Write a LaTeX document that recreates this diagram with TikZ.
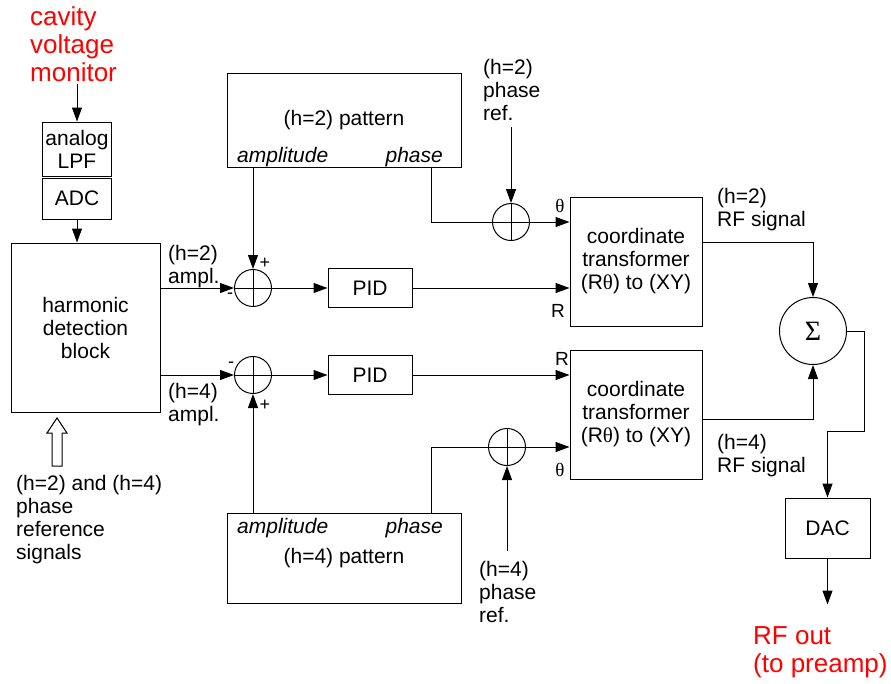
\documentclass[tikz,border=0pt]{standalone}
\usepackage{fontspec}
\setmainfont{Liberation Sans}
\newfontfamily\thfont{Liberation Serif}
\usepackage{tikz}
\usetikzlibrary{arrows.meta,positioning}
\newcommand{\fsn}{\fontsize{21}{23}\selectfont}
\newcommand{\fsr}{\fontsize{26}{28}\selectfont}
\newcommand{\thsym}{{\thfont θ}}
\tikzset{
  blk/.style={draw,line width=1pt,align=center,inner sep=0pt,font=\fsn},
  lbl/.style={align=left,inner sep=0pt,anchor=north west,font=\fsn},
  redlbl/.style={lbl,font=\fsr,text=red},
  itl/.style={inner sep=0pt,font=\fsn\itshape},
  sumc/.style={draw,circle,line width=1pt,minimum size=37pt,inner sep=0pt,
    path picture={\draw[line width=1pt] (path picture bounding box.north)--(path picture bounding box.south)
      (path picture bounding box.west)--(path picture bounding box.east);}},
  sigc/.style={draw,circle,line width=1pt,minimum size=67pt,inner sep=0pt,font=\fontsize{28}{28}\thfont},
  arr/.style={-{Triangle[length=14pt,width=10pt]},line width=1pt},
  ln/.style={line width=1pt},
  sgn/.style={inner sep=0pt,font=\fontsize{18}{18}\selectfont},
  port/.style={inner sep=0pt,font=\fontsize{19}{19}\selectfont},
}
\begin{document}
\begin{tikzpicture}[x=1pt,y=-1pt]
\useasboundingbox (0,0) rectangle (891,683);
% input side
\node[redlbl] (cvm) at (30,6) {cavity\\voltage\\monitor};
\node[blk,minimum width=69pt,minimum height=54pt] (lpf) at (77,149) {analog\\LPF};
\node[blk,minimum width=69pt,minimum height=41pt] (adc) at (77,198.5) {ADC};
\node[blk,minimum width=149pt,minimum height=169pt] (hdb) at (85.5,327.5) {harmonic\\detection\\block};
\node[lbl] (refs) at (16,475) {(h=2) and (h=4)\\phase\\reference\\signals};
\coordinate (harrow) at (57,466);
\node[lbl] (a2) at (168,245) {(h=2)\\ampl.};
\node[lbl] (a4) at (168,383) {(h=4)\\ampl.};
% patterns
\node[blk,minimum width=234pt,minimum height=94pt] (pat2) at (344,120) {(h=2) pattern};
\node[itl,anchor=base west] (amp2) at (237,162) {amplitude};
\node[itl,anchor=base east] (ph2) at (443,162) {phase};
\node[blk,minimum width=234pt,minimum height=90pt] (pat4) at (344,558) {(h=4) pattern};
\node[itl,anchor=base west] (amp4) at (237,533) {amplitude};
\node[itl,anchor=base east] (ph4) at (443,533) {phase};
\coordinate (p2out) at (431,167);
\coordinate (p4out) at (431,513);
% sums and PIDs
\node[sumc] (s1) at (253,288) {};
\node[sumc] (s2) at (253,375) {};
\node[sgn] (pl1) at ([shift={(12,-25)}]s1) {+};
\node[sgn] (mi1) at ([shift={(-23,8)}]s1) {-};
\node[sgn] (mi2) at ([shift={(-22,-10)}]s2) {-};
\node[sgn] (pl2) at ([shift={(12,30)}]s2) {+};
\node[blk,minimum width=84pt,minimum height=39pt] (pid1) at (370,288) {PID};
\node[blk,minimum width=84pt,minimum height=39pt] (pid2) at (370,375) {PID};
\node[sumc] (s3) at (511,222) {};
\node[sumc] (s4) at (507,447) {};
\node[lbl] (pr2) at (483,59) {(h=2)\\phase\\ref.};
\node[lbl] (pr4) at (479,561) {(h=4)\\phase\\ref.};
% transformers
\node[blk,minimum width=132pt,minimum height=129pt] (tr1) at (636,261.5) {coordinate\\transformer\\(R\thsym) to (XY)};
\node[blk,minimum width=132pt,minimum height=129pt] (tr2) at (636,414.5) {coordinate\\transformer\\(R\thsym) to (XY)};
\node[port] (th1) at (560,206) {\thsym};
\node[port] (r1) at (558,311) {R};
\node[port] (r2) at (562,359) {R};
\node[port] (th2) at (560,470) {\thsym};
\node[lbl] (rf2) at (717,188) {(h=2)\\RF signal};
\node[lbl] (rf4) at (717,434) {(h=4)\\RF signal};
% output side
\node[sigc] (sig) at (813,331) {Σ};
\node[blk,minimum width=85pt,minimum height=60pt] (dac) at (827.5,528) {DAC};
\node[redlbl] (rfo) at (753,626) {RF out\\(to preamp)};
\draw[arr,shorten <=3pt] (cvm.south -| lpf.north)--(lpf.north);\draw[arr](adc.south)--(adc.south |- hdb.north);
\draw[ln] (harrow) ++(-5,0) -- ++(0,-33) -- ++(-5,0) -- ++(10,-15) -- ++(10,15) -- ++(-5,0) -- ++(0,33) -- cycle;
\draw[arr](hdb.east |- s1)--(s1);\draw[arr](s1 |- pat2.south)--(s1);\draw[arr](s1)--(pid1);\draw[arr](pid1)--(pid1 -| tr1.west);
\draw[arr](hdb.east |- s2)--(s2);\draw[arr](s2 |- pat4.north)--(s2);\draw[arr](s2)--(pid2);\draw[arr](pid2)--(pid2 -| tr2.west);
\draw[ln](p2out)|-(s3);\draw[arr](s3)--(s3 -| tr1.west);\draw[arr,shorten <=6pt](pr2.south -| s3)--(s3);
\draw[ln](p4out)|-(s4);\draw[arr](s4)--(s4 -| tr2.west);\draw[arr,shorten <=10pt](pr4.north -| s4)--(s4);
\draw[arr]([yshift=19.5pt]tr1.east)-|(sig);\draw[arr]([yshift=-4.5pt]tr2.east)-|(sig);
\draw[arr](sig.east)-|++(17,100)-|(dac.north);\draw[arr](dac.south)--++(0,46);
\end{tikzpicture}
\end{document}
